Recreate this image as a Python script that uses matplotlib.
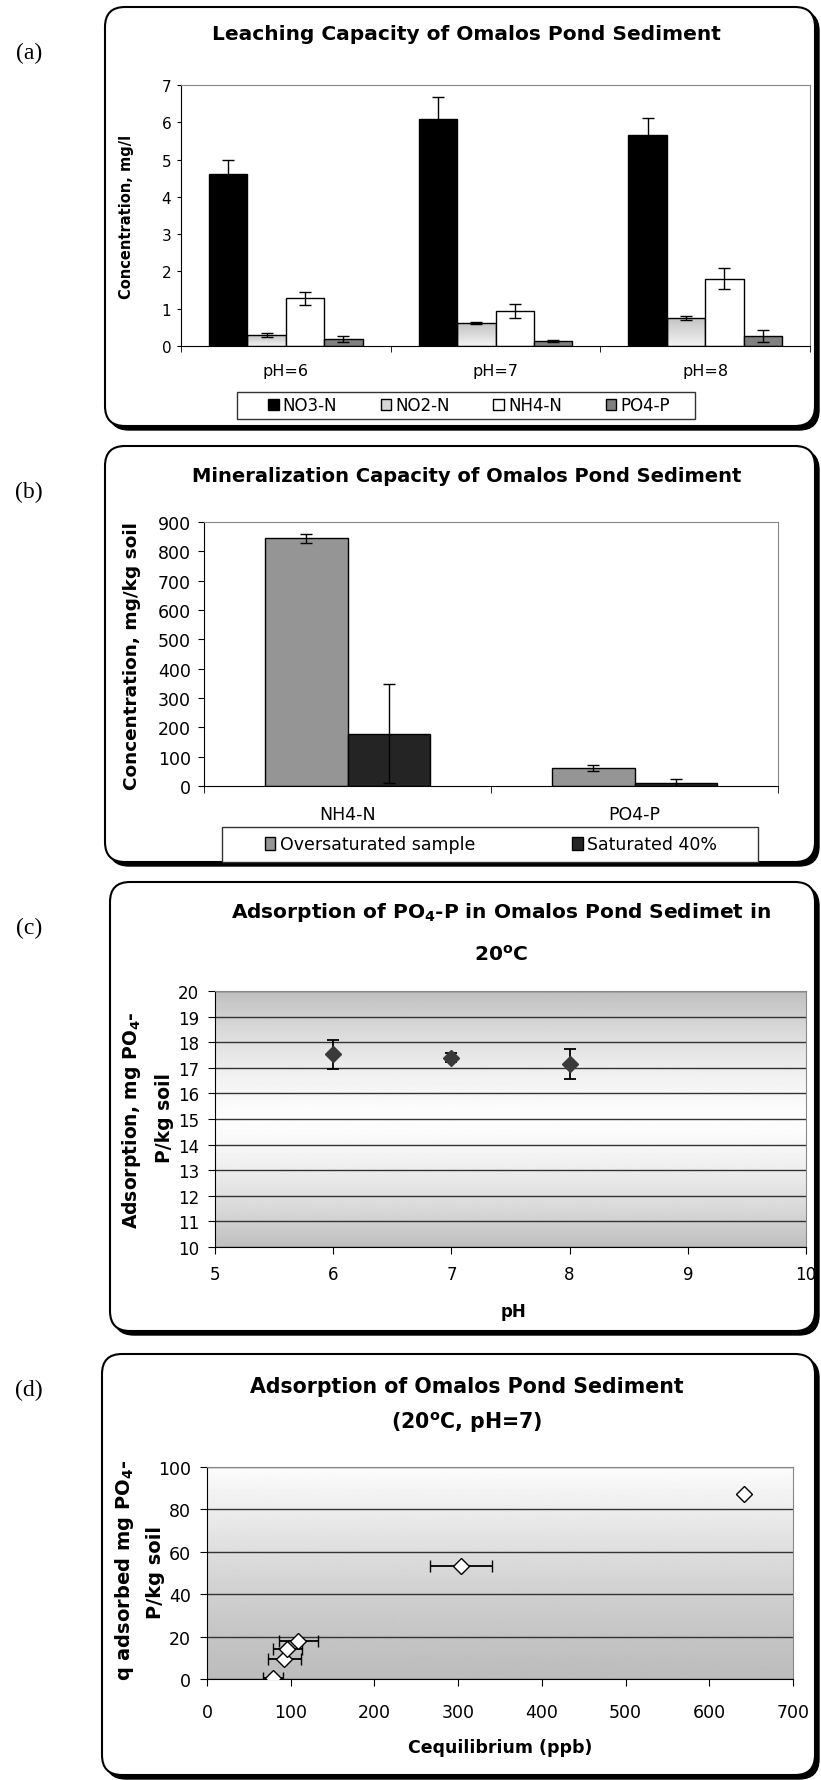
import numpy as np
import matplotlib
matplotlib.use('Agg')
import matplotlib.pyplot as plt
from matplotlib.patches import FancyBboxPatch, Patch, Rectangle

plt.rcParams['font.family'] = ['DejaVu Sans']
plt.rcParams['mathtext.fontset'] = 'dejavusans'

# (a) leaching capacity, mg/l
ph_labels = ['pH=6', 'pH=7', 'pH=8']
no3 = [4.62, 6.08, 5.65]
no3_err = [0.36, 0.60, 0.47]
no2 = [0.29, 0.61, 0.76]
no2_err = [0.06, 0.03, 0.05]
nh4 = [1.28, 0.94, 1.81]
nh4_err = [0.18, 0.18, 0.28]
po4 = [0.19, 0.13, 0.26]
po4_err = [0.07, 0.03, 0.16]
leach_names = ['NO3-N', 'NO2-N', 'NH4-N', 'PO4-P']

# (b) mineralization capacity, mg/kg soil
min_labels = ['NH4-N', 'PO4-P']
oversat = [845, 61]
oversat_err = [15, 10]
sat40 = [178, 10]
sat40_err = [169, 14]
min_names = ['Oversaturated sample', 'Saturated 40%']

# (c) adsorption vs pH
ph_vals = [6, 7, 8]
ads = [17.52, 17.40, 17.15]
ads_err = [0.57, 0.17, 0.59]

# (d) isotherm
c_eq = [79, 92.5, 96, 109, 303, 642]
q_ads = [0.5, 9.4, 14.1, 17.7, 53.4, 87.1]
c_err = [12, 20, 17, 23, 37, 0]

W, H = 821, 1781
fig = plt.figure(figsize=(W / 100, H / 100), dpi=100)


def px_axes(l, t, r, b):
    return fig.add_axes([l / W, 1 - b / H, (r - l) / W, (b - t) / H])


def fx(x):
    return x / W


def fy(y):
    return 1 - y / H


# background panel boxes
bg = fig.add_axes([0, 0, 1, 1])
bg.set_xlim(0, W)
bg.set_ylim(H, 0)
bg.axis('off')
boxes = [(105, 8, 815, 427), (105, 447, 815, 863), (110, 883, 815, 1332), (102, 1355, 815, 1776)]
for l, t, r, b in boxes:
    bg.add_patch(FancyBboxPatch((l + 4, t + 4), r - l, b - t, boxstyle='round,pad=0,rounding_size=20',
                                fc='black', ec='black', lw=1))
    bg.add_patch(FancyBboxPatch((l, t), r - l, b - t, boxstyle='round,pad=0,rounding_size=20',
                                fc='white', ec='black', lw=1.5))
# legend frames
bg.add_patch(Rectangle((237, 393), 695 - 237, 27, fc='white', ec='#333333', lw=1))
bg.add_patch(Rectangle((222, 828), 758 - 222, 35, fc='white', ec='#333333', lw=1))

for lab, yy in zip(['(a)', '(b)', '(c)', '(d)'], [53, 492, 928, 1390]):
    fig.text(fx(29), fy(yy), lab, family='Liberation Serif', fontsize=17, ha='center', va='center')


def style_frame(ax):
    ax.spines['top'].set_color('#888888')
    ax.spines['right'].set_color('#888888')
    ax.spines['left'].set_color('black')
    ax.spines['bottom'].set_color('black')


# ---------- (a) ----------
ax1 = px_axes(181, 86, 810, 347)
x = np.arange(len(ph_labels))
bw = 0.183
offs = np.array([-1.5, -0.5, 0.5, 1.5]) * bw
vals = [no3, no2, nh4, po4]
errs = [no3_err, no2_err, nh4_err, po4_err]
faces = ['black', 'none', 'white', '#808080']
for i in range(4):
    bars = ax1.bar(x + offs[i], vals[i], bw, color=faces[i], edgecolor='black', lw=1, zorder=2)
    if i == 1:
        grad = np.linspace(0.76, 0.95, 60)[:, None]
        for rect in bars:
            im = ax1.imshow(grad, cmap='gray', vmin=0, vmax=1, aspect='auto', zorder=1.5,
                            extent=[rect.get_x(), rect.get_x() + rect.get_width(), 0, rect.get_height()])
            im.set_clip_path(rect)
    ax1.errorbar(x + offs[i], vals[i], yerr=errs[i], fmt='none', ecolor='black',
                 elinewidth=1, capsize=4, capthick=1, zorder=3)
ax1.set_xlim(-0.5, 2.5)
ax1.set_ylim(0, 7)
ax1.set_yticks(range(0, 8))
ax1.set_xticks(x)
ax1.set_xticklabels(ph_labels)
ax1.set_xticks([-0.5, 0.5, 1.5, 2.5], minor=True)
ax1.tick_params(axis='x', which='major', length=0, pad=12, labelsize=11.5)
ax1.tick_params(axis='x', which='minor', length=4)
ax1.tick_params(axis='y', length=3, pad=4, labelsize=11)
style_frame(ax1)
fig.text(fx(466), fy(35), 'Leaching Capacity of Omalos Pond Sediment', fontsize=14.5,
         fontweight='bold', ha='center', va='center')
fig.text(fx(127), fy(217), 'Concentration, mg/l', fontsize=10.5, fontweight='bold',
         rotation=90, ha='center', va='center')
leg_handles = [Patch(fc='black', ec='black'), Patch(fc='#d6d6d6', ec='black'),
               Patch(fc='white', ec='black'), Patch(fc='#808080', ec='black')]
fig.legend(leg_handles, leach_names, loc='center', bbox_to_anchor=(fx(469), fy(406.5)),
           ncol=4, frameon=False, fontsize=12, handlelength=0.65, handleheight=0.65,
           handletextpad=0.25, columnspacing=2.6)

# ---------- (b) ----------
ax2 = px_axes(204, 523, 778, 787)
x2 = np.arange(len(min_labels))
bw2 = 0.287
ax2.bar(x2 - bw2 / 2, oversat, bw2, color='#959595', edgecolor='black', lw=1, zorder=2)
ax2.bar(x2 + bw2 / 2, sat40, bw2, color='#242424', edgecolor='black', lw=1, zorder=2)
ax2.errorbar(x2 - bw2 / 2, oversat, yerr=oversat_err, fmt='none', ecolor='black',
             elinewidth=1, capsize=4, capthick=1, zorder=3)
ax2.errorbar(x2 + bw2 / 2, sat40, yerr=sat40_err, fmt='none', ecolor='black',
             elinewidth=1, capsize=4, capthick=1, zorder=3)
ax2.set_xlim(-0.5, 1.5)
ax2.set_ylim(0, 900)
ax2.set_yticks(range(0, 901, 100))
ax2.set_xticks(x2)
ax2.set_xticklabels(min_labels)
ax2.set_xticks([-0.5, 0.5, 1.5], minor=True)
ax2.tick_params(axis='x', which='major', length=0, pad=14, labelsize=12.5)
ax2.tick_params(axis='x', which='minor', length=5)
ax2.tick_params(axis='y', length=4.5, pad=5, labelsize=12.5)
style_frame(ax2)
fig.text(fx(467), fy(477), 'Mineralization Capacity of Omalos Pond Sediment', fontsize=14,
         fontweight='bold', ha='center', va='center')
fig.text(fx(132), fy(656), 'Concentration, mg/kg soil', fontsize=13.3, fontweight='bold',
         rotation=90, ha='center', va='center')
fig.legend([Patch(fc='#959595', ec='black'), Patch(fc='#242424', ec='black')], min_names,
           loc='center', bbox_to_anchor=(fx(491), fy(845.5)), ncol=2, frameon=False,
           fontsize=12.5, handlelength=0.6, handleheight=0.75, handletextpad=0.25,
           columnspacing=5.6)

# ---------- (c) ----------
ax3 = px_axes(215, 992, 806, 1248)
yy = np.linspace(-1, 1, 200)[:, None]
grad_c = 0.75 + 0.24 * (1 - np.abs(yy) ** 1.5)
ax3.imshow(grad_c, cmap='gray', vmin=0, vmax=1, aspect='auto', extent=[5, 10, 10, 20], zorder=0)
ax3.errorbar(ph_vals, ads, yerr=ads_err, fmt='D', color='#3a3a3a', mec='#3a3a3a', ms=8,
             ecolor='black', elinewidth=1.3, capsize=4.5, capthick=1.3, zorder=3)
ax3.set_xlim(5, 10)
ax3.set_ylim(10, 20)
ax3.set_yticks(range(10, 21))
ax3.set_xticks(range(5, 11))
ax3.grid(axis='y', color='#333333', lw=1)
ax3.tick_params(axis='x', length=5, pad=8, labelsize=12)
ax3.tick_params(axis='y', length=5, pad=6.5, labelsize=12)
style_frame(ax3)
fig.text(fx(501), fy(913), r'Adsorption of PO$_\mathbf{4}$-P in Omalos Pond Sedimet in',
         fontsize=14.5, fontweight='bold', ha='center', va='center')
fig.text(fx(501), fy(955), r'20$^\mathbf{o}$C', fontsize=14.5, fontweight='bold',
         ha='center', va='center')
fig.text(fx(131), fy(1120), r'Adsorption, mg PO$_\mathbf{4}$-', fontsize=13.5,
         fontweight='bold', rotation=90, ha='center', va='center')
fig.text(fx(164), fy(1118), 'P/kg soil', fontsize=13.5, fontweight='bold', rotation=90,
         ha='center', va='center')
fig.text(fx(513), fy(1312), 'pH', fontsize=12, fontweight='bold', ha='center', va='center')

# ---------- (d) ----------
ax4 = px_axes(207, 1468, 793, 1680)
tt = np.linspace(1, 0, 200)[:, None]
grad_d = 0.74 + 0.25 * tt ** 1.3
ax4.imshow(grad_d, cmap='gray', vmin=0, vmax=1, aspect='auto', extent=[0, 700, 0, 100], zorder=0)
ax4.errorbar(c_eq, q_ads, xerr=c_err, fmt='D', mfc='white', mec='black', mew=1, ms=8,
             ecolor='black', elinewidth=1.3, capsize=4.5, capthick=1.3, zorder=3)
ax4.set_xlim(0, 700)
ax4.set_ylim(0, 100)
ax4.set_xticks(range(0, 701, 100))
ax4.set_yticks(range(0, 101, 20))
ax4.grid(axis='y', color='#333333', lw=1)
ax4.tick_params(axis='x', length=5, pad=12, labelsize=12.5)
ax4.tick_params(axis='y', length=5, pad=6.5, labelsize=12.5)
style_frame(ax4)
fig.text(fx(467), fy(1387), 'Adsorption of Omalos Pond Sediment', fontsize=14.8,
         fontweight='bold', ha='center', va='center')
fig.text(fx(467), fy(1423), r'(20$^\mathbf{o}$C, pH=7)', fontsize=14.8, fontweight='bold',
         ha='center', va='center')
fig.text(fx(124), fy(1570), r'q adsorbed mg PO$_\mathbf{4}$-', fontsize=14, fontweight='bold',
         rotation=90, ha='center', va='center')
fig.text(fx(155), fy(1573), 'P/kg soil', fontsize=14, fontweight='bold', rotation=90,
         ha='center', va='center')
fig.text(fx(500), fy(1748), 'Cequilibrium (ppb)', fontsize=12.5, fontweight='bold',
         ha='center', va='center')

fig.savefig('out.png', dpi=100)
